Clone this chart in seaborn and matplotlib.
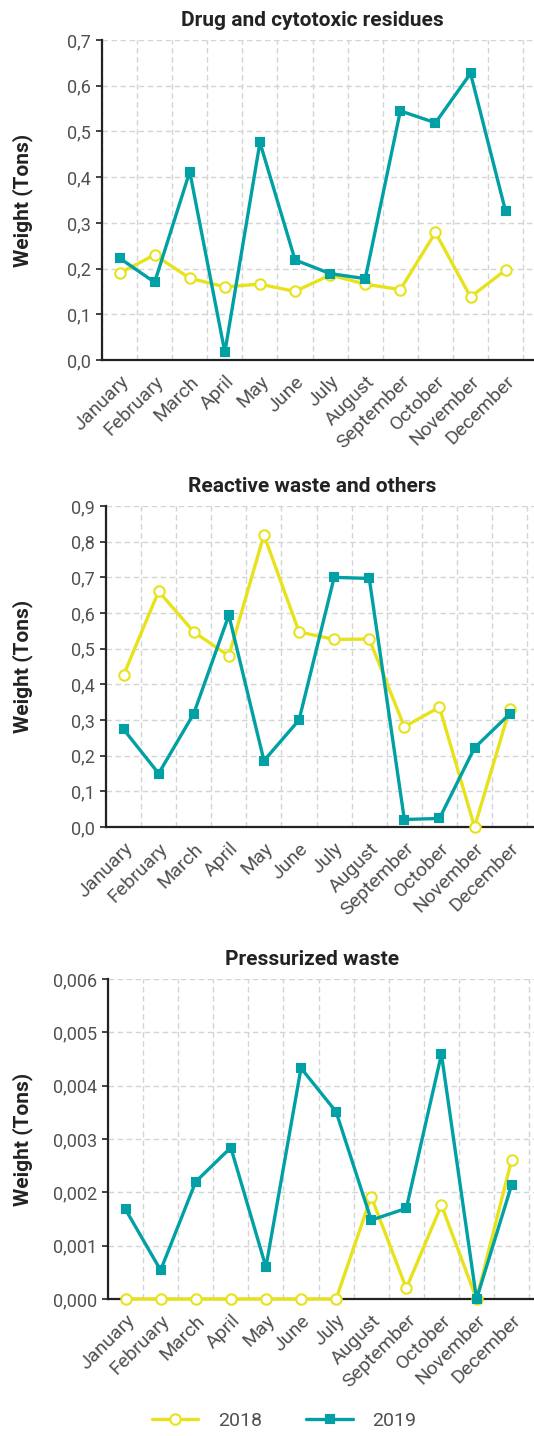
import matplotlib
matplotlib.use('Agg')
import matplotlib.pyplot as plt
import pandas as pd
import seaborn as sns
from matplotlib.ticker import FuncFormatter, FixedLocator
from matplotlib.lines import Line2D

sns.set_style('white')
plt.rcParams['font.family'] = ['Roboto', 'DejaVu Sans']

# Dados
months = ['January', 'February', 'March', 'April', 'May', 'June', 'July',
          'August', 'September', 'October', 'November', 'December']
years = ['2018', '2019']

drug_2018 = [0.190, 0.230, 0.179, 0.160, 0.166, 0.150, 0.186, 0.166, 0.154, 0.279, 0.138, 0.197]
drug_2019 = [0.223, 0.170, 0.412, 0.017, 0.476, 0.219, 0.189, 0.178, 0.545, 0.519, 0.627, 0.325]

reactive_2018 = [0.426, 0.661, 0.547, 0.480, 0.819, 0.547, 0.526, 0.527, 0.281, 0.336, 0.000, 0.330]
reactive_2019 = [0.274, 0.150, 0.318, 0.594, 0.186, 0.300, 0.700, 0.697, 0.021, 0.024, 0.222, 0.317]

press_2018 = [0.0, 0.0, 0.0, 0.0, 0.0, 0.0, 0.0, 0.00192, 0.00020, 0.00176, 0.0, 0.00261]
press_2019 = [0.00168, 0.00054, 0.00220, 0.00284, 0.00060, 0.00433, 0.00351, 0.00148, 0.00170,
              0.00459, 0.0, 0.00214]

titles = ['Drug and cytotoxic residues', 'Reactive waste and others', 'Pressurized waste']
series = [(drug_2018, drug_2019), (reactive_2018, reactive_2019), (press_2018, press_2019)]
ymax = [0.7, 0.9, 0.006]
ystep = [0.1, 0.1, 0.001]
ydec = [1, 1, 3]

colors = {'2018': '#E8E21C', '2019': '#00A0A4'}
markers = {'2018': 'o', '2019': 's'}
msize = {'2018': 7.5, '2019': 5.8}

# posições dos eixos (left, bottom, width, height)
boxes = [(0.191, 0.7493, 0.809, 0.2228),
         (0.1985, 0.4241, 0.8015, 0.2235),
         (0.2022, 0.0954, 0.7978, 0.2228)]

fig = plt.figure(figsize=(5.34, 14.36), dpi=100)
grey = '#505050'

for k in range(3):
    ax = fig.add_axes(boxes[k])
    df = pd.DataFrame({'month': months * 2,
                       'value': series[k][0] + series[k][1],
                       'year': [years[0]] * 12 + [years[1]] * 12})
    df['pos'] = [months.index(m) for m in df['month']]
    for y in years:
        d = df[df['year'] == y]
        sns.lineplot(data=d, x='pos', y='value', ax=ax, color=colors[y], linewidth=2.4,
                     marker=markers[y], markersize=msize[y],
                     markerfacecolor='white' if y == '2018' else colors[y],
                     markeredgecolor=colors[y], markeredgewidth=1.5,
                     zorder=4 if y == '2019' else 3, clip_on=False)

    width_px = boxes[k][2] * 534
    ax.set_xlim(-0.5, -0.5 + width_px / 35.1)
    ax.set_ylim(0, ymax[k])

    ax.xaxis.set_major_locator(FixedLocator(range(12)))
    ax.set_xticklabels(months, rotation=45, ha='right', rotation_mode='anchor',
                       fontsize=14, color=grey)
    ax.xaxis.set_minor_locator(FixedLocator([i - 0.5 for i in range(13)]))
    ax.tick_params(axis='x', which='major', length=0, pad=9)
    ax.tick_params(axis='x', which='minor', length=4, width=1.2, color='#222222', direction='out')

    ticks = [i * ystep[k] for i in range(int(round(ymax[k] / ystep[k])) + 1)]
    ax.set_yticks(ticks)
    ax.yaxis.set_major_formatter(FuncFormatter(
        lambda v, p, n=ydec[k]: f'{v:.{n}f}'.replace('.', ',')))
    ax.tick_params(axis='y', length=4, width=1.2, color='#222222', labelsize=13,
                   labelcolor=grey, pad=4, left=True)

    ax.grid(False)
    ax.grid(True, axis='y', which='major', linestyle=(0, (4, 2.5)), color='#d4d4d4', linewidth=1)
    ax.grid(True, axis='x', which='minor', linestyle=(0, (4, 2.5)), color='#d4d4d4', linewidth=1)
    ax.set_axisbelow(True)

    for s in ['top', 'right']:
        ax.spines[s].set_visible(False)
    for s in ['left', 'bottom']:
        ax.spines[s].set_color('#222222')
        ax.spines[s].set_linewidth(1.6)

    ax.set_xlabel('')
    ax.set_ylabel('Weight (Tons)', fontsize=15, fontweight='bold', color='#222222')
    ax.yaxis.set_label_coords(-(boxes[k][0] * 534 - 33) / width_px, 0.5)
    ax.set_title(titles[k], fontsize=15, fontweight='bold', color='#222222',
                 x=(312 - boxes[k][0] * 534) / width_px, pad=10)
    if ax.get_legend():
        ax.get_legend().remove()

handles = [Line2D([], [], color=colors[y], linewidth=2.4, marker=markers[y],
                  markersize=msize[y],
                  markerfacecolor='white' if y == '2018' else colors[y],
                  markeredgecolor=colors[y], markeredgewidth=1.5) for y in years]
leg = fig.legend(handles, years, loc='center', bbox_to_anchor=(284 / 534, 1 - 1421 / 1436),
                 ncol=2, frameon=False, handlelength=2.4, columnspacing=2.3,
                 handletextpad=1.0, prop={'size': 14})
for t in leg.get_texts():
    t.set_color(grey)

fig.savefig('out.png', dpi=100)
